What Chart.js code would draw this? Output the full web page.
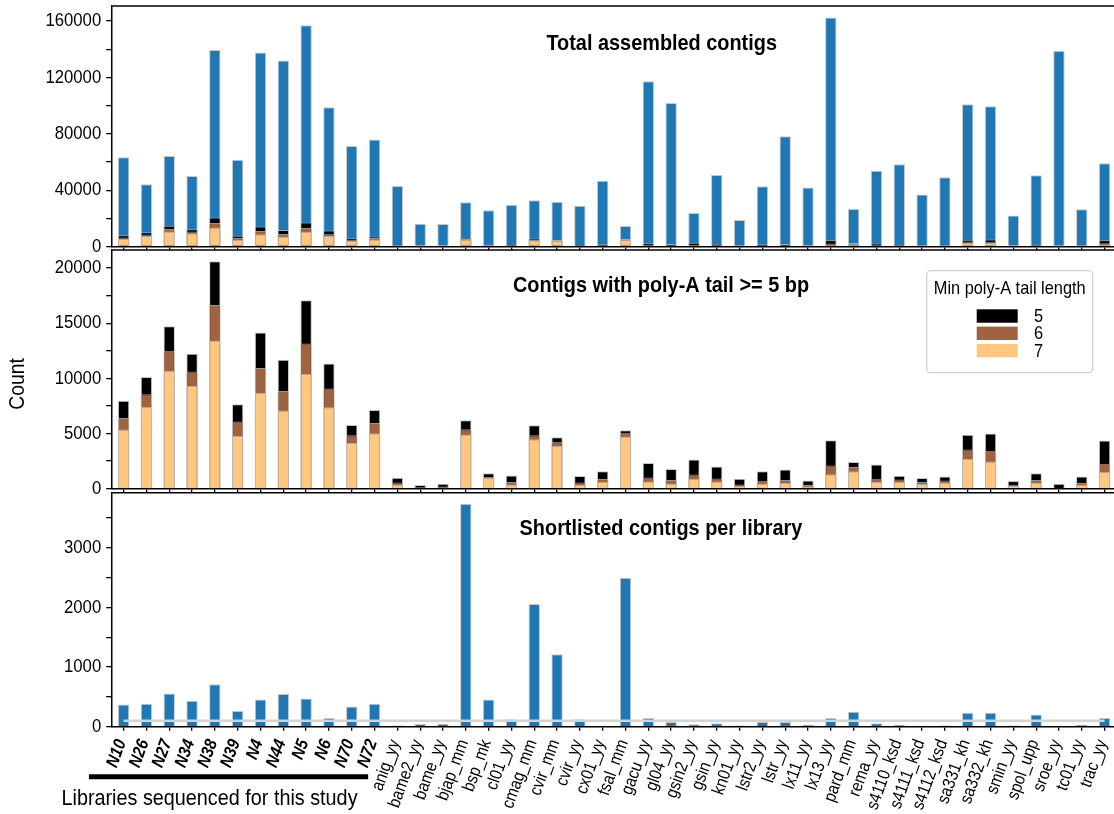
<!DOCTYPE html>
<html>
<head>
<meta charset="utf-8">
<script src="https://cdn.jsdelivr.net/npm/chart.js@4.4.1/dist/chart.umd.min.js"></script>
<style>
  html, body { margin: 0; padding: 0; background: #fff; overflow: hidden; width: 1114px; height: 814px; }
  #fig { position: relative; width: 1114px; height: 814px; overflow: hidden; background: #fff; }
  #fig canvas { position: absolute; left: 0; top: 0; }
</style>
</head>
<body>
<div id="fig">
  <canvas id="cTotal" width="1116" height="814"></canvas>
  <canvas id="cPolyA" width="1116" height="814"></canvas>
  <canvas id="cShort" width="1116" height="814"></canvas>
</div>
<script>
// ---- data -------------------------------------------------------------
const libraries = [
  'N10', 'N26', 'N27', 'N34', 'N38', 'N39', 'N4', 'N44', 'N5', 'N6', 'N70', 'N72',
  'anig_yy', 'bame2_yy', 'bame_yy', 'bjap_mm', 'bsp_mk', 'cl01_yy', 'cmag_mm', 'cvir_mm',
  'cvir_yy', 'cx01_yy', 'fsal_mm', 'gacu_yy', 'gl04_yy', 'gsin2_yy', 'gsin_yy', 'kn01_yy',
  'lstr2_yy', 'lstr_yy', 'lx11_yy', 'lx13_yy', 'pard_mm', 'rema_yy', 's4110_ksd', 's4111_ksd',
  's4112_ksd', 'sa331_kh', 'sa332_kh', 'smin_yy', 'spol_upp', 'sroe_yy', 'tc01_yy', 'trac_yy'
];
const studyLibraryCount = 12;   // N* libraries sequenced here

const totalContigs = [
  63400, 44200, 64300, 50100, 139500, 61500, 137800, 132100, 157000, 98800, 71400, 75900,
  43000, 16100, 15900, 31500, 25800, 29600, 32900, 31700, 28900, 46600, 14500, 117300,
  101900, 23700, 50800, 18900, 42800, 78300, 41800, 162600, 26700, 53700, 58400, 36900,
  49200, 101000, 99500, 22000, 50600, 139000, 26500, 59100
];
// contigs whose poly-A tail is at least 5, 6 and 7 bp long
const polyAMin5 = [
  7980, 10120, 14720, 12230, 20600, 7650, 14150, 11680, 17070, 11350, 5780, 7140,
  990, 330, 450, 6200, 1390, 1200, 5750, 4670, 1140, 1570, 5300, 2320,
  1780, 2650, 2020, 900, 1570, 1750, 750, 4400, 2410, 2200, 1170, 960,
  1110, 4880, 5000, 690, 1390, 450, 1110, 4370
];
const polyAMin6 = [
  6410, 8550, 12500, 10630, 16650, 6080, 10930, 8850, 13160, 9090, 4850, 5960,
  570, 150, 210, 5390, 1080, 600, 4850, 4250, 570, 870, 5060, 1020,
  780, 1290, 930, 390, 720, 780, 330, 2110, 1960, 900, 840, 600,
  750, 3550, 3430, 360, 780, 90, 510, 2260
];
const polyAMin7 = [
  5360, 7410, 10690, 9330, 13430, 4790, 8700, 7080, 10420, 7380, 4130, 5030,
  390, 60, 120, 4910, 1020, 390, 4490, 3880, 360, 630, 4730, 660,
  480, 900, 660, 270, 480, 510, 210, 1320, 1570, 600, 630, 450,
  570, 2680, 2470, 240, 570, 30, 330, 1540
];
const shortlisted = [
  373, 385, 557, 435, 713, 262, 457, 546, 474, 145, 340, 385,
  22, 45, 50, 3735, 457, 123, 2057, 1215, 123, 0, 2497, 145,
  78, 39, 56, 22, 78, 78, 28, 145, 251, 56, 28, 17,
  22, 234, 234, 22, 206, 0, 28, 145
];
const shortlistCutoff = 100;

// y tick marks (minor step) and labelled ticks (major step) per panel
const totalTicks = { minor: 20000, major: 40000 };
const polyATicks = { minor: 2500, major: 5000 };
const shortTicks = { minor: 500, major: 1000 };

const tailLengths = ['5', '6', '7'];
const legendTitle = 'Min poly-A tail length';
const panelTitles = ['Total assembled contigs', 'Contigs with poly-A tail >= 5 bp', 'Shortlisted contigs per library'];
const yAxisTitle = 'Count';
const studyGroupLabel = 'Libraries sequenced for this study';

// ---- styling ----------------------------------------------------------
const FONT = "'Liberation Sans', Arial, Helvetica, sans-serif";
const BLUE = '#1f77b4';
const COPPER = ['#000000', '#9f643f', '#ffc77f'];   // tail length 5, 6, 7
const EDGE = 'rgba(185,185,185,0.8)';
const AXIS_W = 112.2;          // width reserved for the y axis
const TEXT_SQUEEZE = 0.88;     // condensed lettering

Chart.defaults.font.family = FONT;
Chart.defaults.color = '#000';
Chart.defaults.animation = false;

// draw all text on a context with a horizontal squeeze (condensed type)
function condenseText(ctx, f) {
  const fill = ctx.fillText.bind(ctx);
  const measure = ctx.measureText.bind(ctx);
  ctx.fillText = function (text, x, y) {
    ctx.save();
    ctx.translate(x, y);
    ctx.scale(f, 1);
    fill(text, 0, 0);
    ctx.restore();
  };
  ctx.measureText = function (text) {
    const m = measure(text);
    return {
      width: m.width * f,
      actualBoundingBoxLeft: m.actualBoundingBoxLeft * f,
      actualBoundingBoxRight: m.actualBoundingBoxRight * f,
      actualBoundingBoxAscent: m.actualBoundingBoxAscent,
      actualBoundingBoxDescent: m.actualBoundingBoxDescent,
      fontBoundingBoxAscent: m.fontBoundingBoxAscent,
      fontBoundingBoxDescent: m.fontBoundingBoxDescent
    };
  };
}

// free text drawn at figure coordinates
const figureText = {
  id: 'figureText',
  afterDraw(chart, args, opts) {
    const ctx = chart.ctx;
    (opts.items || []).forEach(it => {
      ctx.save();
      ctx.font = it.font;
      ctx.fillStyle = '#000';
      ctx.textAlign = it.align || 'center';
      ctx.textBaseline = it.baseline || 'alphabetic';
      ctx.translate(it.x, it.y);
      if (it.rotate) ctx.rotate(it.rotate);
      ctx.fillText(it.text, 0, 0);
      ctx.restore();
    });
  }
};

// top spine of each panel
const topSpine = {
  id: 'topSpine',
  afterDraw(chart) {
    const { ctx, chartArea: a } = chart;
    ctx.save();
    ctx.strokeStyle = '#000';
    ctx.lineWidth = 1.5;
    ctx.beginPath();
    ctx.moveTo(a.left, a.top);
    ctx.lineTo(a.right, a.top);
    ctx.stroke();
    ctx.restore();
  }
};

// legend box for the poly-A tail length series
const tailLegend = {
  id: 'tailLegend',
  afterDraw(chart, args, opts) {
    if (!opts.show) return;
    const ctx = chart.ctx;
    const bx = 926.7, by = 270.7, bw = 166, bh = 102;
    ctx.save();
    ctx.beginPath();
    ctx.roundRect(bx, by, bw, bh, 4);
    ctx.fillStyle = 'rgba(255,255,255,0.85)';
    ctx.fill();
    ctx.strokeStyle = '#cfcfcf';
    ctx.lineWidth = 1.2;
    ctx.stroke();
    ctx.fillStyle = '#000';
    ctx.font = `18.6px ${FONT}`;
    ctx.textAlign = 'center';
    ctx.textBaseline = 'alphabetic';
    ctx.fillText(legendTitle, bx + bw / 2, by + 23);
    const sets = chart.data.datasets.filter(d => tailLengths.includes(d.label));
    sets.forEach((d, i) => {
      const sy = by + 38.6 + i * 17.3;
      ctx.fillStyle = d.backgroundColor;
      ctx.fillRect(976.7, sy, 41, 13.4);
      ctx.fillStyle = '#000';
      ctx.textAlign = 'left';
      ctx.textBaseline = 'middle';
      ctx.fillText(d.label, 1034, sy + 7.5);
    });
    ctx.restore();
  }
};

// reference line for the shortlist panel
const cutoffLine = {
  id: 'cutoffLine',
  afterDatasetsDraw(chart, args, opts) {
    if (opts.value === undefined) return;
    const { ctx, scales: { x, y } } = chart;
    const py = y.getPixelForValue(opts.value);
    ctx.save();
    ctx.strokeStyle = '#d3d3d3';
    ctx.lineWidth = 2.6;
    ctx.beginPath();
    ctx.moveTo(x.getPixelForValue(0), py);
    ctx.lineTo(x.getPixelForValue(libraries.length - 1), py);
    ctx.stroke();
    ctx.restore();
  }
};

// black bar grouping the libraries sequenced for this study
const studyBracket = {
  id: 'studyBracket',
  afterDraw(chart, args, opts) {
    if (!opts.show) return;
    const { ctx, scales: { x } } = chart;
    const step = x.getPixelForValue(1) - x.getPixelForValue(0);
    const x0 = x.getPixelForValue(0) - 1.52 * step;
    const x1 = x.getPixelForValue(studyLibraryCount - 1) - 0.28 * step;
    ctx.save();
    ctx.strokeStyle = '#000';
    ctx.lineWidth = 5;
    ctx.beginPath();
    ctx.moveTo(x0, 776.8);
    ctx.lineTo(x1, 776.8);
    ctx.stroke();
    ctx.restore();
  }
};

function barSet(label, data, color, order) {
  return {
    label, data, order,
    backgroundColor: color,
    borderColor: EDGE,
    borderWidth: 1,
    barPercentage: 0.5,
    categoryPercentage: 1.0
  };
}

function yAxis(maxVal, tickSpec) {
  return {
    min: 0,
    max: maxVal,
    border: { display: true, color: '#000', width: 1.5 },
    grid: { drawOnChartArea: false, drawTicks: true, tickLength: 6, color: '#000', lineWidth: 1.3 },
    ticks: {
      autoSkip: false,
      padding: 5,
      font: { size: 19 },
      color: '#000',
      callback: v => (v % tickSpec.major === 0 ? String(v) : '')
    },
    afterBuildTicks(s) {
      const t = [];
      for (let v = 0; v <= maxVal; v += tickSpec.minor) t.push({ value: v });
      s.ticks = t;
    },
    afterFit(s) { s.width = AXIS_W; s.paddingTop = 0; s.paddingBottom = 0; }
  };
}

function xAxis(withLabels) {
  return {
    stacked: true,
    offset: true,
    border: { display: true, color: '#000', width: 1.5 },
    grid: { offset: false, drawOnChartArea: false, drawTicks: true, tickLength: 4, color: '#000', lineWidth: 1.3 },
    ticks: withLabels ? {
      display: true,
      autoSkip: false,
      minRotation: 70,
      maxRotation: 70,
      padding: 6,
      labelOffset: -2,
      color: '#000',
      font: ctx => (ctx.index < studyLibraryCount
        ? { size: 17.5, weight: 'bold', style: 'italic' }
        : { size: 17.5, weight: 'normal', style: 'normal' })
    } : { display: false },
    afterFit(s) { s.height = withLabels ? 87.3 : 4; s.paddingLeft = 0; s.paddingRight = 0; }
  };
}

function makePanel(id, datasets, yOpts, top, bottom, withLabels, plugOpts) {
  const canvas = document.getElementById(id);
  const ctx = canvas.getContext('2d');
  condenseText(ctx, TEXT_SQUEEZE);
  const xh = withLabels ? 87.3 : 4;
  return new Chart(ctx, {
    type: 'bar',
    data: { labels: libraries, datasets },
    options: {
      responsive: false,
      devicePixelRatio: 1,
      layout: { autoPadding: false, padding: { top, bottom: 814 - bottom - xh, left: 0, right: 0 } },
      scales: { x: xAxis(withLabels), y: yOpts },
      plugins: Object.assign({ legend: { display: false }, tooltip: { enabled: false } }, plugOpts)
    },
    plugins: [topSpine, figureText, tailLegend, cutoffLine, studyBracket]
  });
}

const titleFont = `bold 22.6px ${FONT}`;

// panel 1: total contigs with the poly-A subsets overlaid
makePanel('cTotal', [
  barSet('total', totalContigs, BLUE, 4),
  barSet(tailLengths[0], polyAMin5, COPPER[0], 3),
  barSet(tailLengths[1], polyAMin6, COPPER[1], 2),
  barSet(tailLengths[2], polyAMin7, COPPER[2], 1)
], yAxis(Math.max(...totalContigs) * 1.05, totalTicks), 6, 246.5, false, {
  figureText: { items: [{ text: panelTitles[0], x: 661.7, y: 50, font: titleFont }] }
});

// panel 2: contigs with poly-A tails by minimum tail length
makePanel('cPolyA', [
  barSet(tailLengths[0], polyAMin5, COPPER[0], 3),
  barSet(tailLengths[1], polyAMin6, COPPER[1], 2),
  barSet(tailLengths[2], polyAMin7, COPPER[2], 1)
], yAxis(Math.max(...polyAMin5) * 1.05, polyATicks), 250, 488.7, false, {
  figureText: { items: [
    { text: panelTitles[1], x: 661, y: 291.5, font: titleFont },
    { text: yAxisTitle, x: 18, y: 384, font: `22px ${FONT}`, baseline: 'middle', rotate: -Math.PI / 2 }
  ] },
  tailLegend: { show: true }
});

// panel 3: shortlisted contigs per library
makePanel('cShort', [
  barSet('shortlisted', shortlisted, BLUE, 1)
], yAxis(Math.max(...shortlisted) * 1.05, shortTicks), 492.7, 726.7, true, {
  figureText: { items: [
    { text: panelTitles[2], x: 661, y: 535, font: titleFont },
    { text: studyGroupLabel, x: 209.5, y: 805, font: `22.5px ${FONT}` }
  ] },
  cutoffLine: { value: shortlistCutoff },
  studyBracket: { show: true }
});
</script>
</body>
</html>
